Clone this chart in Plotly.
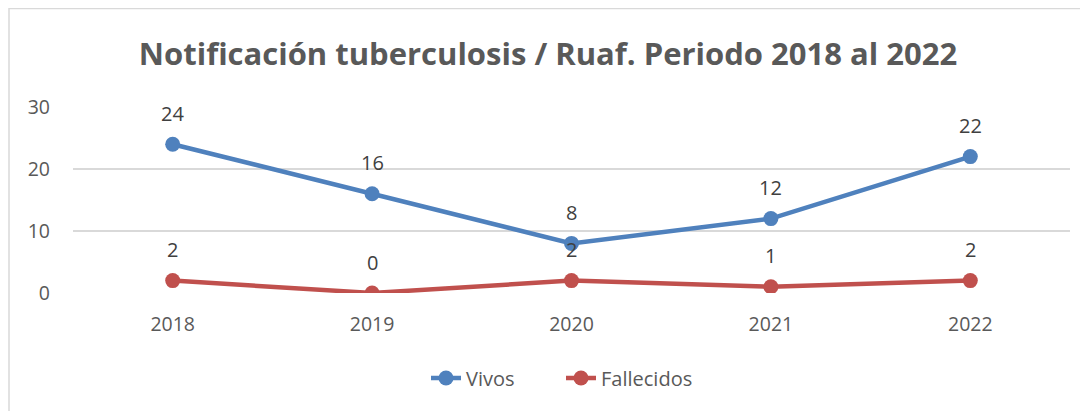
import plotly.graph_objects as go

years = ["2018", "2019", "2020", "2021", "2022"]
vivos = [24, 16, 8, 12, 22]
fallecidos = [2, 0, 2, 1, 2]
y_ticks = [0, 10, 20, 30]

# page has an 8px body margin, so figure coordinates are offset by 8px
W, H = 1080, 403
ML, MR, MT, MB = 65, 18, 99, 118
pw = W - ML - MR
ph = H - MT - MB

fig = go.Figure()
fig.add_trace(go.Scatter(x=list(range(len(years))), y=vivos, name="Vivos", mode="lines+markers",
                         line=dict(color="#4F81BD", width=4.5),
                         marker=dict(size=15, color="#4F81BD")))
fig.add_trace(go.Scatter(x=list(range(len(years))), y=fallecidos, name="Fallecidos", mode="lines+markers",
                         line=dict(color="#C0504D", width=4.5),
                         marker=dict(size=15, color="#C0504D")))

for series in (vivos, fallecidos):
    for i, yv in enumerate(series):
        fig.add_annotation(x=i, y=yv, text=str(yv), showarrow=False, yshift=31,
                           yanchor="middle",
                           font=dict(size=20, color="#404040", family="Open Sans"))

def px_x(p):
    return (p - ML) / pw

def px_y(p):
    return (H - MB - p) / ph

fig.add_shape(type="rect", xref="paper", yref="paper",
              x0=px_x(1), x1=px_x(1100), y0=px_y(420), y1=px_y(0.5),
              line=dict(color="#D9D9D9", width=1.5), layer="below")

fig.update_layout(
    width=W, height=H,
    margin=dict(l=ML, r=MR, t=MT, b=MB),
    paper_bgcolor="white", plot_bgcolor="white",
    title=dict(text="<b>Notificación tuberculosis / Ruaf. Periodo 2018 al 2022</b>",
               x=0.5, xanchor="center", y=1 - 46.5 / H, yanchor="middle",
               font=dict(size=31, color="#595959", family="Open Sans")),
    font=dict(family="Open Sans", color="#595959", size=19),
    showlegend=True,
    legend=dict(orientation="h", x=px_x(553), xanchor="center", y=px_y(370), yanchor="middle",
                font=dict(size=20, color="#595959"), entrywidth=90, entrywidthmode="pixels"),
    xaxis=dict(range=[-0.5, 4.5], tickvals=list(range(len(years))), ticktext=years,
               showgrid=False, zeroline=False, showline=False, ticks="",
               tickfont=dict(size=19.5, color="#595959"), ticklabelstandoff=17),
    yaxis=dict(range=[0, 30], tickvals=y_ticks, showgrid=True, gridcolor="#D9D9D9",
               gridwidth=1.5, zeroline=False, showline=False, ticks="",
               tickfont=dict(size=19.5, color="#595959"), ticklabelstandoff=22),
)
fig.write_html("out.html")
